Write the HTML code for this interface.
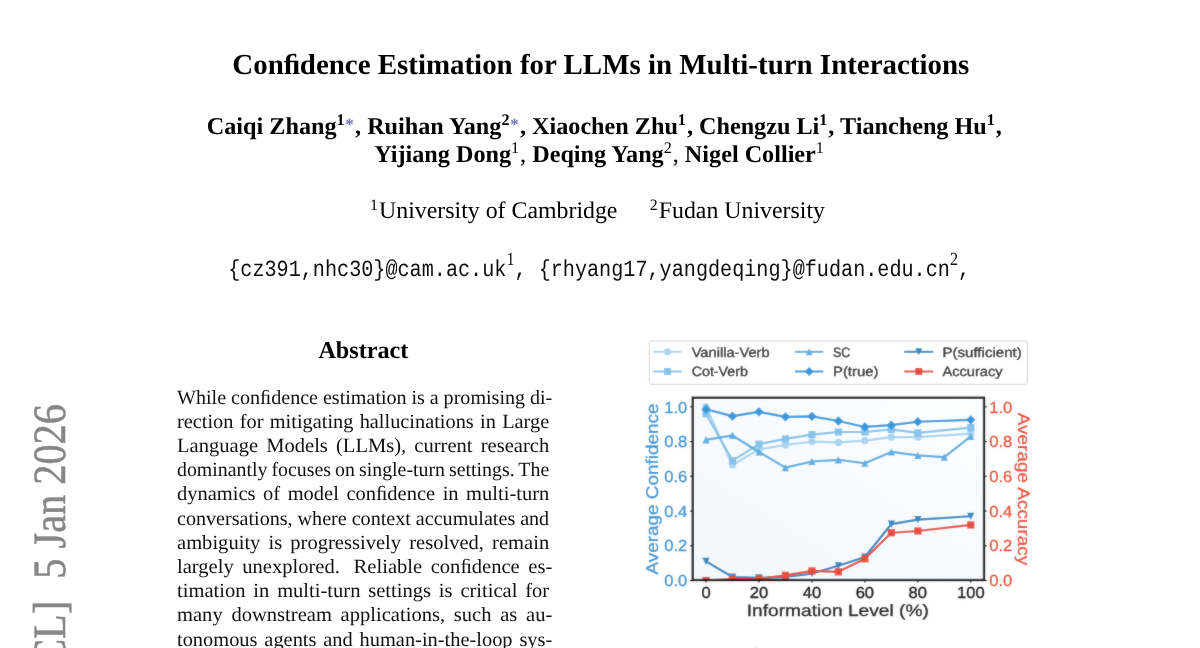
<!DOCTYPE html>
<html><head><meta charset="utf-8"><title>Confidence Estimation for LLMs in Multi-turn Interactions</title>
<style>
html,body{margin:0;padding:0;background:#fff;}
body{width:1200px;height:648px;overflow:hidden;position:relative;font-family:'Liberation Serif',serif;}
.t{position:absolute;white-space:nowrap;margin:0;padding:0;}
sup{font-size:0.667em;line-height:0;vertical-align:baseline;position:relative;top:-0.545em;margin-right:1px;}
sup.b{font-weight:bold;}
sup.n,.n{font-weight:normal;}
sup.s{font-family:'Liberation Serif',serif;font-size:0.8em;top:-0.54em;margin-right:0;}
.star{color:#7072c4;font-weight:bold;font-size:0.7em;position:relative;top:-0.235em;margin-left:-0.3px;margin-right:1.3px;}
.chart{position:absolute;left:0;top:0;}
#tx{position:absolute;left:0;top:0;width:1200px;height:648px;}
#pg{text-rendering:geometricPrecision;position:absolute;left:0;top:0;width:1200px;height:648px;overflow:hidden;will-change:transform;}
</style></head>
<body><div id="pg">
<div id="tx">
<div class="t" style="left:232.30px;top:50.97px;font-size:28.93px;line-height:28.93px;font-family:'Liberation Serif';font-weight:bold;color:#000;">Conﬁdence Estimation for LLMs in Multi-turn Interactions</div>
<div class="t" style="left:206.80px;top:115.14px;font-size:24.19px;line-height:24.19px;font-family:'Liberation Serif';font-weight:bold;color:#000;">Caiqi Zhang<sup class="b">1</sup><span class="star">*</span>, Ruihan Yang<sup class="b">2</sup><span class="star">*</span>, Xiaochen Zhu<sup class="b">1</sup>, Chengzu Li<sup class="b">1</sup>, Tiancheng Hu<sup class="b">1</sup>,</div>
<div class="t" style="left:374.20px;top:143.24px;font-size:24.19px;line-height:24.19px;font-family:'Liberation Serif';font-weight:bold;color:#000;">Yijiang Dong<sup class="n">1</sup><span class="n">,</span> Deqing Yang<sup class="n">2</sup><span class="n">,</span> Nigel Collier<sup class="n">1</sup></div>
<div class="t" style="left:370.10px;top:200.33px;font-size:23.85px;line-height:23.85px;font-family:'Liberation Serif';font-weight:normal;color:#000;"><sup class="n">1</sup>University of Cambridge</div>
<div class="t" style="left:649.80px;top:200.33px;font-size:23.85px;line-height:23.85px;font-family:'Liberation Serif';font-weight:normal;color:#000;"><sup class="n">2</sup>Fudan University</div>
<div class="t" style="left:228.20px;top:261.75px;font-size:20.16px;line-height:20.16px;font-family:'Liberation Mono';font-weight:normal;color:#0d0d0d;transform:scaleY(1.15);transform-origin:0 15.45px;">{cz391,nhc30}@cam.ac.uk<sup class="s">1</sup>, {rhyang17,yangdeqing}@fudan.edu.cn<sup class="s">2</sup>,</div>
<div class="t" style="left:318.40px;top:338.54px;font-size:24.19px;line-height:24.19px;font-family:'Liberation Serif';font-weight:bold;color:#000;">Abstract</div>
<div class="t" style="left:177.30px;top:387.62px;font-size:20.16px;line-height:20.16px;font-family:'Liberation Serif';font-weight:normal;color:#111;word-spacing:-0.156px;transform:scaleX(0.9972);transform-origin:0 0;">While conﬁdence estimation is a promising di-</div>
<div class="t" style="left:177.30px;top:411.81px;font-size:20.16px;line-height:20.16px;font-family:'Liberation Serif';font-weight:normal;color:#111;word-spacing:1.232px;transform:scaleX(1.0085);transform-origin:0 0;">rection for mitigating hallucinations in Large</div>
<div class="t" style="left:177.30px;top:436.00px;font-size:20.16px;line-height:20.16px;font-family:'Liberation Serif';font-weight:normal;color:#111;word-spacing:2.936px;transform:scaleX(1.0200);transform-origin:0 0;">Language Models (LLMs), current research</div>
<div class="t" style="left:177.30px;top:460.19px;font-size:20.16px;line-height:20.16px;font-family:'Liberation Serif';font-weight:normal;color:#111;word-spacing:-0.883px;transform:scaleX(0.9843);transform-origin:0 0;">dominantly focuses on single-turn settings. The</div>
<div class="t" style="left:177.30px;top:484.38px;font-size:20.16px;line-height:20.16px;font-family:'Liberation Serif';font-weight:normal;color:#111;word-spacing:2.366px;transform:scaleX(1.0165);transform-origin:0 0;">dynamics of model conﬁdence in multi-turn</div>
<div class="t" style="left:177.30px;top:508.57px;font-size:20.16px;line-height:20.16px;font-family:'Liberation Serif';font-weight:normal;color:#111;word-spacing:-0.104px;transform:scaleX(0.9981);transform-origin:0 0;">conversations, where context accumulates and</div>
<div class="t" style="left:177.30px;top:532.76px;font-size:20.16px;line-height:20.16px;font-family:'Liberation Serif';font-weight:normal;color:#111;word-spacing:2.921px;transform:scaleX(1.0200);transform-origin:0 0;">ambiguity is progressively resolved, remain</div>
<div class="t" style="left:177.30px;top:556.95px;font-size:20.16px;line-height:20.16px;font-family:'Liberation Serif';font-weight:normal;color:#111;word-spacing:3.365px;transform:scaleX(1.0200);transform-origin:0 0;">largely unexplored. <span style="display:inline-block;width:5.04px"></span>Reliable conﬁdence es-</div>
<div class="t" style="left:177.30px;top:581.14px;font-size:20.16px;line-height:20.16px;font-family:'Liberation Serif';font-weight:normal;color:#111;word-spacing:2.676px;transform:scaleX(1.0187);transform-origin:0 0;">timation in multi-turn settings is critical for</div>
<div class="t" style="left:177.30px;top:605.33px;font-size:20.16px;line-height:20.16px;font-family:'Liberation Serif';font-weight:normal;color:#111;word-spacing:3.507px;transform:scaleX(1.0200);transform-origin:0 0;">many downstream applications, such as au-</div>
<div class="t" style="left:177.30px;top:629.52px;font-size:20.16px;line-height:20.16px;font-family:'Liberation Serif';font-weight:normal;color:#111;word-spacing:1.737px;transform:scaleX(1.0120);transform-origin:0 0;">tonomous agents and human-in-the-loop sys-</div>
<div class="t" style="left:625.80px;top:646.12px;font-size:20.16px;line-height:20.16px;font-family:'Liberation Serif';font-weight:normal;color:#9a9a9a;width:398.00px;text-align:justify;text-align-last:justify;white-space:normal;">Figure 1: Conﬁdence estimation in multi-turn inter-</div>
</div>
<svg class="chart" width="1200" height="648" viewBox="0 0 1200 648" font-family="Liberation Sans, sans-serif">
<defs><linearGradient id="bg" x1="0" y1="1" x2="1" y2="0"><stop offset="0" stop-color="#f2f8fd"/><stop offset="1" stop-color="#fcfeff"/></linearGradient><filter id="bl" x="-5%" y="-5%" width="110%" height="110%"><feGaussianBlur stdDeviation="0.8" result="b"/><feComposite in="SourceGraphic" in2="b" operator="arithmetic" k1="0" k2="0.68" k3="0.32" k4="0"/></filter><clipPath id="cp"><rect x="692.8" y="397.6" width="291.4" height="183.2"/></clipPath></defs>
<g filter="url(#bl)">
<rect x="692.8" y="397.8" width="291.2" height="182.2" fill="url(#bg)"/>
<g clip-path="url(#cp)">
<polyline points="706.00,406.80 732.48,464.99 758.96,449.36 785.44,445.01 811.92,441.54 838.40,442.41 864.88,440.67 891.36,437.20 917.84,437.20 970.80,433.72" fill="none" stroke="#a9d4f1" stroke-width="2.2" stroke-linejoin="round"/>
<circle cx="706.00" cy="406.80" r="3.60" fill="#a9d4f1"/>
<circle cx="732.48" cy="464.99" r="3.60" fill="#a9d4f1"/>
<circle cx="758.96" cy="449.36" r="3.60" fill="#a9d4f1"/>
<circle cx="785.44" cy="445.01" r="3.60" fill="#a9d4f1"/>
<circle cx="811.92" cy="441.54" r="3.60" fill="#a9d4f1"/>
<circle cx="838.40" cy="442.41" r="3.60" fill="#a9d4f1"/>
<circle cx="864.88" cy="440.67" r="3.60" fill="#a9d4f1"/>
<circle cx="891.36" cy="437.20" r="3.60" fill="#a9d4f1"/>
<circle cx="917.84" cy="437.20" r="3.60" fill="#a9d4f1"/>
<circle cx="970.80" cy="433.72" r="3.60" fill="#a9d4f1"/>
<polyline points="706.00,413.75 732.48,460.65 758.96,444.15 785.44,438.93 811.92,434.59 838.40,431.99 864.88,431.99 891.36,429.38 917.84,432.86 970.80,427.64" fill="none" stroke="#88c3ea" stroke-width="2.2" stroke-linejoin="round"/>
<rect x="702.40" y="410.15" width="7.20" height="7.20" fill="#88c3ea"/>
<rect x="728.88" y="457.05" width="7.20" height="7.20" fill="#88c3ea"/>
<rect x="755.36" y="440.55" width="7.20" height="7.20" fill="#88c3ea"/>
<rect x="781.84" y="435.33" width="7.20" height="7.20" fill="#88c3ea"/>
<rect x="808.32" y="430.99" width="7.20" height="7.20" fill="#88c3ea"/>
<rect x="834.80" y="428.39" width="7.20" height="7.20" fill="#88c3ea"/>
<rect x="861.28" y="428.39" width="7.20" height="7.20" fill="#88c3ea"/>
<rect x="887.76" y="425.78" width="7.20" height="7.20" fill="#88c3ea"/>
<rect x="914.24" y="429.25" width="7.20" height="7.20" fill="#88c3ea"/>
<rect x="967.20" y="424.04" width="7.20" height="7.20" fill="#88c3ea"/>
<polyline points="706.00,439.80 732.48,435.46 758.96,451.96 785.44,467.60 811.92,461.52 838.40,459.78 864.88,463.25 891.36,451.96 917.84,455.44 944.32,457.17 970.80,436.33" fill="none" stroke="#5dade2" stroke-width="2.2" stroke-linejoin="round"/>
<path d="M706.00 436.20 L709.60 443.40 L702.40 443.40Z" fill="#5dade2"/>
<path d="M732.48 431.86 L736.08 439.06 L728.88 439.06Z" fill="#5dade2"/>
<path d="M758.96 448.36 L762.56 455.56 L755.36 455.56Z" fill="#5dade2"/>
<path d="M785.44 464.00 L789.04 471.20 L781.84 471.20Z" fill="#5dade2"/>
<path d="M811.92 457.92 L815.52 465.12 L808.32 465.12Z" fill="#5dade2"/>
<path d="M838.40 456.18 L842.00 463.38 L834.80 463.38Z" fill="#5dade2"/>
<path d="M864.88 459.65 L868.48 466.85 L861.28 466.85Z" fill="#5dade2"/>
<path d="M891.36 448.36 L894.96 455.56 L887.76 455.56Z" fill="#5dade2"/>
<path d="M917.84 451.84 L921.44 459.04 L914.24 459.04Z" fill="#5dade2"/>
<path d="M944.32 453.57 L947.92 460.77 L940.72 460.77Z" fill="#5dade2"/>
<path d="M970.80 432.73 L974.40 439.93 L967.20 439.93Z" fill="#5dade2"/>
<polyline points="706.00,409.23 732.48,416.18 758.96,411.84 785.44,416.87 811.92,416.35 838.40,421.04 864.88,426.95 891.36,425.21 917.84,421.74 970.80,419.83" fill="none" stroke="#3498db" stroke-width="2.2" stroke-linejoin="round"/>
<path d="M706.00 404.55 L710.68 409.23 L706.00 413.91 L701.32 409.23Z" fill="#3498db"/>
<path d="M732.48 411.50 L737.16 416.18 L732.48 420.86 L727.80 416.18Z" fill="#3498db"/>
<path d="M758.96 407.16 L763.64 411.84 L758.96 416.52 L754.28 411.84Z" fill="#3498db"/>
<path d="M785.44 412.19 L790.12 416.87 L785.44 421.55 L780.76 416.87Z" fill="#3498db"/>
<path d="M811.92 411.67 L816.60 416.35 L811.92 421.03 L807.24 416.35Z" fill="#3498db"/>
<path d="M838.40 416.36 L843.08 421.04 L838.40 425.72 L833.72 421.04Z" fill="#3498db"/>
<path d="M864.88 422.27 L869.56 426.95 L864.88 431.63 L860.20 426.95Z" fill="#3498db"/>
<path d="M891.36 420.53 L896.04 425.21 L891.36 429.89 L886.68 425.21Z" fill="#3498db"/>
<path d="M917.84 417.06 L922.52 421.74 L917.84 426.42 L913.16 421.74Z" fill="#3498db"/>
<path d="M970.80 415.15 L975.48 419.83 L970.80 424.51 L966.12 419.83Z" fill="#3498db"/>
<polyline points="706.00,561.39 732.48,577.03 758.96,577.89 785.44,577.03 811.92,573.55 838.40,565.74 864.88,557.05 891.36,524.05 917.84,519.71 970.80,516.23" fill="none" stroke="#2e86c1" stroke-width="2.2" stroke-linejoin="round"/>
<path d="M706.00 564.99 L709.60 557.79 L702.40 557.79Z" fill="#2e86c1"/>
<path d="M732.48 580.63 L736.08 573.43 L728.88 573.43Z" fill="#2e86c1"/>
<path d="M758.96 581.49 L762.56 574.29 L755.36 574.29Z" fill="#2e86c1"/>
<path d="M785.44 580.63 L789.04 573.43 L781.84 573.43Z" fill="#2e86c1"/>
<path d="M811.92 577.15 L815.52 569.95 L808.32 569.95Z" fill="#2e86c1"/>
<path d="M838.40 569.34 L842.00 562.14 L834.80 562.14Z" fill="#2e86c1"/>
<path d="M864.88 560.65 L868.48 553.45 L861.28 553.45Z" fill="#2e86c1"/>
<path d="M891.36 527.65 L894.96 520.45 L887.76 520.45Z" fill="#2e86c1"/>
<path d="M917.84 523.31 L921.44 516.11 L914.24 516.11Z" fill="#2e86c1"/>
<path d="M970.80 519.83 L974.40 512.63 L967.20 512.63Z" fill="#2e86c1"/>
<polyline points="706.00,580.50 732.48,578.76 758.96,578.76 785.44,575.29 811.92,570.95 838.40,571.82 864.88,558.79 891.36,532.73 917.84,531.00 970.80,524.92" fill="none" stroke="#e74c3c" stroke-width="2.2" stroke-linejoin="round"/>
<rect x="702.40" y="576.90" width="7.20" height="7.20" fill="#e74c3c"/>
<rect x="728.88" y="575.16" width="7.20" height="7.20" fill="#e74c3c"/>
<rect x="755.36" y="575.16" width="7.20" height="7.20" fill="#e74c3c"/>
<rect x="781.84" y="571.69" width="7.20" height="7.20" fill="#e74c3c"/>
<rect x="808.32" y="567.35" width="7.20" height="7.20" fill="#e74c3c"/>
<rect x="834.80" y="568.22" width="7.20" height="7.20" fill="#e74c3c"/>
<rect x="861.28" y="555.19" width="7.20" height="7.20" fill="#e74c3c"/>
<rect x="887.76" y="529.13" width="7.20" height="7.20" fill="#e74c3c"/>
<rect x="914.24" y="527.40" width="7.20" height="7.20" fill="#e74c3c"/>
<rect x="967.20" y="521.32" width="7.20" height="7.20" fill="#e74c3c"/>
</g>
<rect x="692.8" y="397.8" width="291.2" height="182.2" fill="none" stroke="#1c1c1c" stroke-width="2.3"/>
<line x1="690.2" x2="692.8" y1="580.50" y2="580.50" stroke="#111" stroke-width="1.1"/>
<line x1="984" x2="986.6" y1="580.50" y2="580.50" stroke="#111" stroke-width="1.1"/>
<text x="687.3" y="586.20" text-anchor="end" font-size="16" fill="#4595d2" stroke="#4595d2" stroke-width="0.3" textLength="23.0" lengthAdjust="spacingAndGlyphs">0.0</text>
<text x="989.2" y="586.20" text-anchor="start" font-size="16" fill="#e8513f" stroke="#e8513f" stroke-width="0.25" textLength="23.0" lengthAdjust="spacingAndGlyphs">0.0</text>
<line x1="690.2" x2="692.8" y1="545.76" y2="545.76" stroke="#111" stroke-width="1.1"/>
<line x1="984" x2="986.6" y1="545.76" y2="545.76" stroke="#111" stroke-width="1.1"/>
<text x="687.3" y="551.46" text-anchor="end" font-size="16" fill="#4595d2" stroke="#4595d2" stroke-width="0.3" textLength="23.0" lengthAdjust="spacingAndGlyphs">0.2</text>
<text x="989.2" y="551.46" text-anchor="start" font-size="16" fill="#e8513f" stroke="#e8513f" stroke-width="0.25" textLength="23.0" lengthAdjust="spacingAndGlyphs">0.2</text>
<line x1="690.2" x2="692.8" y1="511.02" y2="511.02" stroke="#111" stroke-width="1.1"/>
<line x1="984" x2="986.6" y1="511.02" y2="511.02" stroke="#111" stroke-width="1.1"/>
<text x="687.3" y="516.72" text-anchor="end" font-size="16" fill="#4595d2" stroke="#4595d2" stroke-width="0.3" textLength="23.0" lengthAdjust="spacingAndGlyphs">0.4</text>
<text x="989.2" y="516.72" text-anchor="start" font-size="16" fill="#e8513f" stroke="#e8513f" stroke-width="0.25" textLength="23.0" lengthAdjust="spacingAndGlyphs">0.4</text>
<line x1="690.2" x2="692.8" y1="476.28" y2="476.28" stroke="#111" stroke-width="1.1"/>
<line x1="984" x2="986.6" y1="476.28" y2="476.28" stroke="#111" stroke-width="1.1"/>
<text x="687.3" y="481.98" text-anchor="end" font-size="16" fill="#4595d2" stroke="#4595d2" stroke-width="0.3" textLength="23.0" lengthAdjust="spacingAndGlyphs">0.6</text>
<text x="989.2" y="481.98" text-anchor="start" font-size="16" fill="#e8513f" stroke="#e8513f" stroke-width="0.25" textLength="23.0" lengthAdjust="spacingAndGlyphs">0.6</text>
<line x1="690.2" x2="692.8" y1="441.54" y2="441.54" stroke="#111" stroke-width="1.1"/>
<line x1="984" x2="986.6" y1="441.54" y2="441.54" stroke="#111" stroke-width="1.1"/>
<text x="687.3" y="447.24" text-anchor="end" font-size="16" fill="#4595d2" stroke="#4595d2" stroke-width="0.3" textLength="23.0" lengthAdjust="spacingAndGlyphs">0.8</text>
<text x="989.2" y="447.24" text-anchor="start" font-size="16" fill="#e8513f" stroke="#e8513f" stroke-width="0.25" textLength="23.0" lengthAdjust="spacingAndGlyphs">0.8</text>
<line x1="690.2" x2="692.8" y1="406.80" y2="406.80" stroke="#111" stroke-width="1.1"/>
<line x1="984" x2="986.6" y1="406.80" y2="406.80" stroke="#111" stroke-width="1.1"/>
<text x="687.3" y="412.50" text-anchor="end" font-size="16" fill="#4595d2" stroke="#4595d2" stroke-width="0.3" textLength="23.0" lengthAdjust="spacingAndGlyphs">1.0</text>
<text x="989.2" y="412.50" text-anchor="start" font-size="16" fill="#e8513f" stroke="#e8513f" stroke-width="0.25" textLength="23.0" lengthAdjust="spacingAndGlyphs">1.0</text>
<line x1="706.00" x2="706.00" y1="580" y2="582.6" stroke="#111" stroke-width="1.1"/>
<text x="706.00" y="597.5" text-anchor="middle" font-size="16" fill="#222" stroke="#222" stroke-width="0.35" textLength="9.2" lengthAdjust="spacingAndGlyphs">0</text>
<line x1="758.96" x2="758.96" y1="580" y2="582.6" stroke="#111" stroke-width="1.1"/>
<text x="758.96" y="597.5" text-anchor="middle" font-size="16" fill="#222" stroke="#222" stroke-width="0.35" textLength="18.4" lengthAdjust="spacingAndGlyphs">20</text>
<line x1="811.92" x2="811.92" y1="580" y2="582.6" stroke="#111" stroke-width="1.1"/>
<text x="811.92" y="597.5" text-anchor="middle" font-size="16" fill="#222" stroke="#222" stroke-width="0.35" textLength="18.4" lengthAdjust="spacingAndGlyphs">40</text>
<line x1="864.88" x2="864.88" y1="580" y2="582.6" stroke="#111" stroke-width="1.1"/>
<text x="864.88" y="597.5" text-anchor="middle" font-size="16" fill="#222" stroke="#222" stroke-width="0.35" textLength="18.4" lengthAdjust="spacingAndGlyphs">60</text>
<line x1="917.84" x2="917.84" y1="580" y2="582.6" stroke="#111" stroke-width="1.1"/>
<text x="917.84" y="597.5" text-anchor="middle" font-size="16" fill="#222" stroke="#222" stroke-width="0.35" textLength="18.4" lengthAdjust="spacingAndGlyphs">80</text>
<line x1="970.80" x2="970.80" y1="580" y2="582.6" stroke="#111" stroke-width="1.1"/>
<text x="970.80" y="597.5" text-anchor="middle" font-size="16" fill="#222" stroke="#222" stroke-width="0.35" textLength="27.6" lengthAdjust="spacingAndGlyphs">100</text>
<text x="837.8" y="616.1" text-anchor="middle" font-size="16.5" fill="#2a2a2a" stroke="#2a2a2a" stroke-width="0.3" textLength="182" lengthAdjust="spacingAndGlyphs">Information Level (%)</text>
<text transform="translate(657.6 489) rotate(-90)" text-anchor="middle" font-size="17" fill="#4595d2" stroke="#4595d2" stroke-width="0.25" textLength="171" lengthAdjust="spacingAndGlyphs">Average Confidence</text>
<text transform="translate(1018.3 489) rotate(90)" text-anchor="middle" font-size="17" fill="#e8513f" stroke="#e8513f" stroke-width="0.2" textLength="152.5" lengthAdjust="spacingAndGlyphs">Average Accuracy</text>
<rect x="649.3" y="341" width="378" height="43.3" rx="2.2" fill="#fff" stroke="#d4d4d4" stroke-width="1"/>
<line x1="653.3" x2="681.7" y1="351.8" y2="351.8" stroke="#a9d4f1" stroke-width="2"/>
<circle cx="667.50" cy="351.80" r="3.50" fill="#a9d4f1"/>
<text x="691.7" y="356.65" font-size="13.5" fill="#161616" stroke="#161616" stroke-width="0.35" textLength="77.9" lengthAdjust="spacingAndGlyphs">Vanilla-Verb</text>
<line x1="653.3" x2="681.7" y1="371.5" y2="371.5" stroke="#88c3ea" stroke-width="2"/>
<rect x="664.00" y="368.00" width="7.00" height="7.00" fill="#88c3ea"/>
<text x="691.7" y="376.35" font-size="13.5" fill="#161616" stroke="#161616" stroke-width="0.35" textLength="56.2" lengthAdjust="spacingAndGlyphs">Cot-Verb</text>
<line x1="795.0" x2="823.3" y1="351.8" y2="351.8" stroke="#5dade2" stroke-width="2"/>
<path d="M809.15 348.30 L812.65 355.30 L805.65 355.30Z" fill="#5dade2"/>
<text x="833.0" y="356.65" font-size="13.5" fill="#161616" stroke="#161616" stroke-width="0.35" textLength="17.4" lengthAdjust="spacingAndGlyphs">SC</text>
<line x1="795.0" x2="823.3" y1="371.5" y2="371.5" stroke="#3498db" stroke-width="2"/>
<path d="M809.15 366.95 L813.70 371.50 L809.15 376.05 L804.60 371.50Z" fill="#3498db"/>
<text x="833.0" y="376.35" font-size="13.5" fill="#161616" stroke="#161616" stroke-width="0.35" textLength="45.4" lengthAdjust="spacingAndGlyphs">P(true)</text>
<line x1="904.2" x2="933.3" y1="351.8" y2="351.8" stroke="#2e86c1" stroke-width="2"/>
<path d="M918.75 355.30 L922.25 348.30 L915.25 348.30Z" fill="#2e86c1"/>
<text x="942.5" y="356.65" font-size="13.5" fill="#161616" stroke="#161616" stroke-width="0.35" textLength="79.2" lengthAdjust="spacingAndGlyphs">P(sufficient)</text>
<line x1="904.2" x2="933.3" y1="371.5" y2="371.5" stroke="#e74c3c" stroke-width="2"/>
<rect x="915.25" y="368.00" width="7.00" height="7.00" fill="#e74c3c"/>
<text x="942.5" y="376.35" font-size="13.5" fill="#161616" stroke="#161616" stroke-width="0.35" textLength="60.1" lengthAdjust="spacingAndGlyphs">Accuracy</text>
</g>
<text transform="translate(65.3 404.2) rotate(-90) scale(0.872 1)" text-anchor="end" font-family="Liberation Serif, serif" font-size="46.2" fill="#878787" stroke="#878787" stroke-width="0.55" xml:space="preserve" style="white-space:pre">arXiv:2601.02179v1  [cs.CL]  <tspan dx="2.4">5 Jan 2026</tspan></text>
</svg>
</div></body></html>
